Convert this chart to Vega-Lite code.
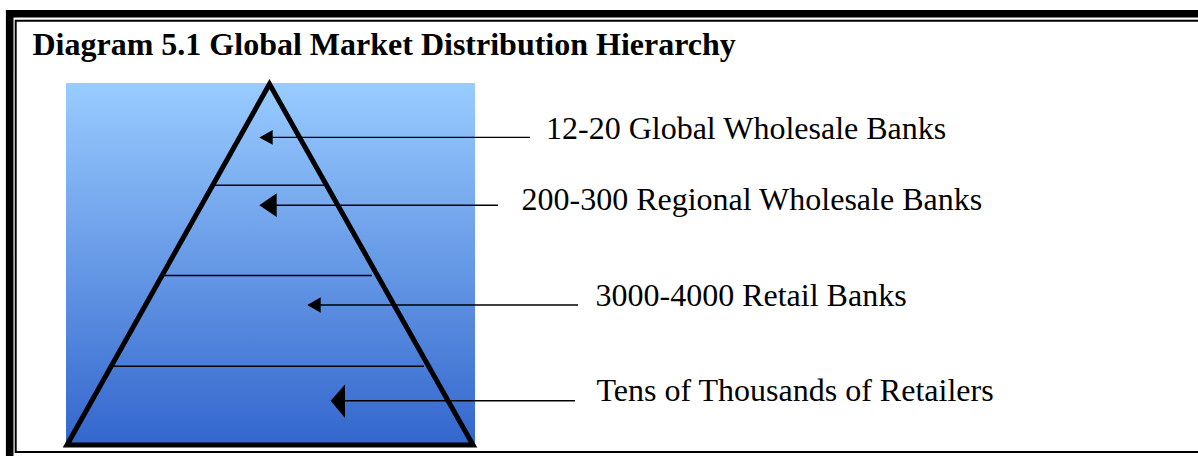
{
  "$schema": "https://vega.github.io/schema/vega-lite/v6.json",
  "width": 1198,
  "height": 456,
  "autosize": "none",
  "padding": 0,
  "background": "white",
  "config": {"view": {"stroke": null}},
  "datasets": {
    "frame": [
      {"part": "outer", "x": 9.7, "y": 13.8, "x2": 1400, "y2": 700},
      {"part": "inner", "x": 15.7, "y": 20.7, "x2": 1400, "y2": 452}
    ],
    "backdrop": [{"x": 66, "x2": 475, "y": 83, "y2": 446}],
    "pyramid": [
      {"o": 1, "x": 269.5, "y": 84},
      {"o": 2, "x": 67, "y": 445},
      {"o": 3, "x": 473, "y": 445},
      {"o": 4, "x": 269.5, "y": 84},
      {"o": 5, "x": 67, "y": 445}
    ],
    "dividers": [
      {"x": 214, "x2": 325, "y": 185.3},
      {"x": 160, "x2": 372, "y": 275.5},
      {"x": 114, "x2": 424, "y": 366.3}
    ],
    "shafts": [
      {"x": 272, "x2": 530, "y": 137.4},
      {"x": 275, "x2": 498, "y": 205.3},
      {"x": 320, "x2": 578, "y": 305},
      {"x": 344, "x2": 575, "y": 400.8}
    ],
    "heads": [
      {"a": 1, "x": 259.3, "y": 137.4, "y2": 137.4},
      {"a": 1, "x": 272.7, "y": 130, "y2": 144.8},
      {"a": 2, "x": 259.3, "y": 205.3, "y2": 205.3},
      {"a": 2, "x": 276.7, "y": 193.3, "y2": 216.9},
      {"a": 3, "x": 307.3, "y": 305, "y2": 305},
      {"a": 3, "x": 320.7, "y": 297.3, "y2": 312.7},
      {"a": 4, "x": 330.7, "y": 400.8, "y2": 400.8},
      {"a": 4, "x": 345, "y": 384.5, "y2": 418}
    ],
    "labels": [
      {"label": "12-20 Global Wholesale Banks", "x": 546, "y": 138.5},
      {"label": "200-300 Regional Wholesale Banks", "x": 521.5, "y": 209.5},
      {"label": "3000-4000 Retail Banks", "x": 595.5, "y": 306},
      {"label": "Tens of Thousands of Retailers", "x": 596.5, "y": 401}
    ],
    "title": [{"label": "Diagram 5.1 Global Market Distribution Hierarchy", "x": 32.5, "y": 55}]
  },
  "layer": [
    {
      "data": {"name": "backdrop"},
      "mark": {
        "type": "rect",
        "fill": {
          "gradient": "linear",
          "x1": 0, "y1": 0, "x2": 0, "y2": 1,
          "stops": [
            {"offset": 0, "color": "#99CCFF"},
            {"offset": 1, "color": "#3366CC"}
          ]
        },
        "stroke": null
      },
      "encoding": {
        "x": {"field": "x", "type": "quantitative", "scale": {"domain": [0, 1198], "nice": false, "zero": false}, "axis": null},
        "x2": {"field": "x2"},
        "y": {"field": "y", "type": "quantitative", "scale": {"domain": [0, 456], "reverse": true, "nice": false, "zero": false}, "axis": null},
        "y2": {"field": "y2"}
      }
    },
    {
      "data": {"name": "frame"},
      "transform": [{"filter": "datum.part === 'outer'"}],
      "mark": {"type": "rect", "filled": false, "stroke": "#000000", "strokeWidth": 7.6, "fill": null},
      "encoding": {
        "x": {"field": "x", "type": "quantitative", "axis": null},
        "x2": {"field": "x2"},
        "y": {"field": "y", "type": "quantitative", "axis": null},
        "y2": {"field": "y2"}
      }
    },
    {
      "data": {"name": "frame"},
      "transform": [{"filter": "datum.part === 'inner'"}],
      "mark": {"type": "rect", "filled": false, "stroke": "#000000", "strokeWidth": 2, "fill": null},
      "encoding": {
        "x": {"field": "x", "type": "quantitative", "axis": null},
        "x2": {"field": "x2"},
        "y": {"field": "y", "type": "quantitative", "axis": null},
        "y2": {"field": "y2"}
      }
    },
    {
      "data": {"name": "dividers"},
      "mark": {"type": "rule", "color": "#000000", "strokeWidth": 1.4},
      "encoding": {
        "x": {"field": "x", "type": "quantitative", "axis": null},
        "x2": {"field": "x2"},
        "y": {"field": "y", "type": "quantitative", "axis": null}
      }
    },
    {
      "data": {"name": "shafts"},
      "mark": {"type": "rule", "color": "#000000", "strokeWidth": 1.4},
      "encoding": {
        "x": {"field": "x", "type": "quantitative", "axis": null},
        "x2": {"field": "x2"},
        "y": {"field": "y", "type": "quantitative", "axis": null}
      }
    },
    {
      "data": {"name": "heads"},
      "mark": {"type": "area", "orient": "vertical", "color": "#000000", "opacity": 1},
      "encoding": {
        "x": {"field": "x", "type": "quantitative", "axis": null},
        "y": {"field": "y", "type": "quantitative", "axis": null},
        "y2": {"field": "y2"},
        "detail": {"field": "a", "type": "nominal"}
      }
    },
    {
      "data": {"name": "pyramid"},
      "mark": {"type": "line", "color": "#000000", "strokeWidth": 5, "strokeJoin": "miter", "strokeMiterLimit": 10, "strokeCap": "butt"},
      "encoding": {
        "x": {"field": "x", "type": "quantitative", "axis": null},
        "y": {"field": "y", "type": "quantitative", "axis": null},
        "order": {"field": "o", "type": "quantitative"}
      }
    },
    {
      "data": {"name": "labels"},
      "mark": {"type": "text", "font": "Liberation Serif", "fontSize": 32, "align": "left", "baseline": "alphabetic", "color": "#000000"},
      "encoding": {
        "x": {"field": "x", "type": "quantitative", "axis": null},
        "y": {"field": "y", "type": "quantitative", "axis": null},
        "text": {"field": "label"}
      }
    },
    {
      "data": {"name": "title"},
      "mark": {"type": "text", "font": "Liberation Serif", "fontSize": 32, "fontWeight": "bold", "align": "left", "baseline": "alphabetic", "color": "#000000"},
      "encoding": {
        "x": {"field": "x", "type": "quantitative", "axis": null},
        "y": {"field": "y", "type": "quantitative", "axis": null},
        "text": {"field": "label"}
      }
    }
  ]
}
